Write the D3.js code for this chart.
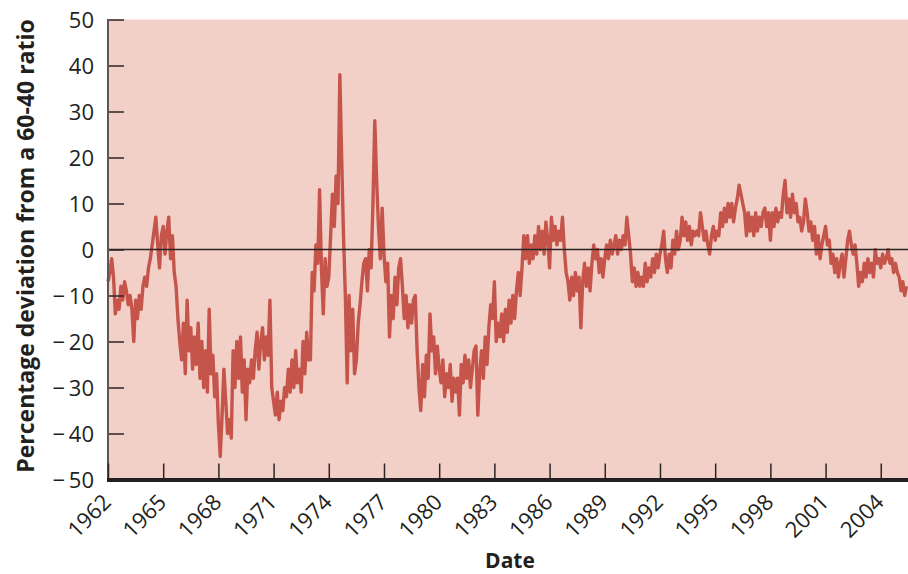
<!DOCTYPE html>
<html>
<head>
<meta charset="utf-8">
<script src="https://cdn.jsdelivr.net/npm/d3@7"></script>
<style>
  body { margin: 0; background: #ffffff; }
  svg { display: block; }
  text { font-family: "Open Sans", "Noto Sans", sans-serif; fill: #231f20; }
</style>
</head>
<body>
<svg id="chart" width="908" height="574"></svg>
<script>
// Percentage deviation of the portfolio from a 60-40 ratio, sampled every tenth of a year.
const sampleStep = 0.1;

const start1960s = 1962;
const dev1960s = [
  -7, -5, -2, -6, -14, -11, -13, -8, -11, -7,      // 1962
  -9, -12, -10, -13, -20, -11, -15, -10, -13, -8,  // 1963
  -6, -8, -4, -2, 1, 4, 7, 1, -4, 3,               // 1964
  5, -1, 4, 7, -2, 3, -5, -8, -15, -20,            // 1965
  -24, -16, -27, -11, -22, -17, -26, -19, -25, -16,// 1966
  -28, -20, -30, -22, -31, -13, -27, -23, -32, -27,// 1967
  -38, -45, -36, -26, -33, -40, -37, -41, -22, -30,// 1968
  -20, -28, -19, -31, -24, -37, -26, -29, -24, -28 // 1969
];

const start1970s = 1970;
const dev1970s = [
  -22, -18, -26, -20, -17, -24, -19, -23, -11, -30, // 1970
  -33, -36, -31, -37, -33, -35, -30, -32, -26, -31, // 1971
  -24, -30, -22, -29, -26, -31, -20, -27, -18, -24, // 1972
  -24, -5, -9, 1, -3, 13, -4, -14, -2, -8,          // 1973
  -6, 3, 12, 5, 16, 10, 38, 20, 3, -10,             // 1974
  -29, -10, -22, -13, -27, -24, -16, -12, -7, -3,   // 1975
  -2, -9, 0, -4, 10, 28, 15, 5, -2, 9,              // 1976
  -1, -7, -3, -19, -10, -15, -6, -12, -4, -2,       // 1977
  -8, -15, -10, -17, -12, -16, -11, -10, -22, -30,  // 1978
  -35, -25, -32, -23, -28, -14, -22, -19, -27, -21  // 1979
];

const start1980s = 1980;
const dev1980s = [
  -26, -29, -24, -32, -27, -30, -25, -33, -28, -31, // 1980
  -28, -36, -25, -29, -23, -28, -24, -30, -26, -22, // 1981
  -21, -36, -27, -22, -28, -19, -25, -17, -12, -15, // 1982
  -7, -20, -16, -19, -14, -20, -13, -18, -11, -16,  // 1983
  -10, -15, -9, -5, -10, -4, 3, -2, 3, -3,          // 1984
  1, -2, 3, -1, 5, 0, 4, -1, 6, 2,                  // 1985
  -4, 7, 2, 5, 1, 4, 2, 7, 0, -5,                   // 1986
  -7, -11, -6, -10, -5, -9, -6, -17, -7, -3,        // 1987
  -8, -4, -9, -3, 1, -2, 0, -5, -2, -6,             // 1988
  -2, 1, -2, 2, -1, 1, 3, -1, 2, 0                  // 1989
];

const start1990s = 1990;
const dev1990s = [
  3, 1, 7, 3, -1, -7, -4, -8, -5, -8,   // 1990
  -6, -8, -3, -7, -4, -6, -2, -5, -1, -4, // 1991
  -1, 1, 4, -2, -5, -1, -4, 2, -1, 4,   // 1992
  0, 2, 7, 3, 6, 2, 5, 1, 4, 3,         // 1993
  4, 3, 8, 5, 2, 4, 1, -1, 3, 5,        // 1994
  2, 4, 3, 8, 5, 9, 6, 10, 7, 10,       // 1995
  6, 9, 11, 14, 12, 10, 8, 3, 8, 4,     // 1996
  7, 3, 8, 4, 7, 5, 8, 9, 5, 8,         // 1997
  2, 8, 5, 9, 6, 8, 7, 12, 15, 8,       // 1998
  11, 7, 12, 8, 10, 6, 7, 4, 6, 11      // 1999
];

const start2000s = 2000;
const dev2000s = [
  8, 4, 6, 2, 5, -1, 3, -2, 1, 3,       // 2000
  5, 1, 2, -3, -1, -5, -2, -6, -3, -1,  // 2001
  -6, -2, 2, 4, 1, -1, 1, -3, -8, -5,   // 2002
  -7, -3, -6, -2, -5, -3, -6, 0, -3, -2,// 2003
  -4, -1, -3, -2, 0, -3, -2, -5, -3, -5,// 2004
  -6, -9, -7, -10, -8                   // 2005
];

const yTicks = [-50, -40, -30, -20, -10, 0, 10, 20, 30, 40, 50];
const xTicks = [1962, 1965, 1968, 1971, 1974, 1977, 1980, 1983, 1986, 1989, 1992, 1995, 1998, 2001, 2004];
const yTitle = "Percentage deviation from a 60-40 ratio";
const xTitle = "Date";

// Flatten the decade blocks into {year, value} points
const blocks = [
  [start1960s, dev1960s], [start1970s, dev1970s], [start1980s, dev1980s],
  [start1990s, dev1990s], [start2000s, dev2000s]
];
const series = [];
blocks.forEach(([y0, vals]) => {
  vals.forEach((v, i) => series.push({ year: y0 + i * sampleStep, value: v }));
});

const svg = d3.select("#chart");
const plotLeft = 108, plotRight = 908, plotTop = 19.5, plotBottom = 479.5;

const x = d3.scaleLinear().domain([1962, 2005.48]).range([plotLeft, plotRight]);
const y = d3.scaleLinear().domain([-50, 50]).range([plotBottom, plotTop]);

// Plot background
svg.append("rect")
  .attr("x", plotLeft).attr("y", plotTop)
  .attr("width", plotRight - plotLeft).attr("height", plotBottom - plotTop)
  .attr("fill", "#f2cfc7");

// Data line
const line = d3.line().x(d => x(d.year)).y(d => y(d.value));
svg.append("path")
  .datum(series)
  .attr("d", line)
  .attr("fill", "none")
  .attr("stroke", "#c5554a")
  .attr("stroke-width", 3.4)
  .attr("stroke-linejoin", "round");

// Zero reference line
svg.append("line")
  .attr("x1", plotLeft).attr("x2", plotRight)
  .attr("y1", y(0)).attr("y2", y(0))
  .attr("stroke", "#2b2526").attr("stroke-width", 1.6);

// Y axis: ticks point inward
const yAxis = d3.axisRight(y)
  .tickValues(yTicks)
  .tickSize(16)
  .tickFormat(d => d < 0 ? "\u2212\u2009" + Math.abs(d) : String(d));
const gy = svg.append("g").attr("transform", `translate(${plotLeft},0)`).call(yAxis);
gy.select(".domain").remove();
gy.selectAll(".tick line").attr("stroke", "#2b2526").attr("stroke-width", 1.5);
gy.selectAll(".tick text")
  .attr("x", -14).attr("dy", "0.35em")
  .attr("text-anchor", "end")
  .style("font-size", "22px");
svg.append("line")
  .attr("x1", plotLeft).attr("x2", plotLeft)
  .attr("y1", plotTop - 0.5).attr("y2", plotBottom)
  .attr("stroke", "#5a5556").attr("stroke-width", 2);

// X axis: ticks point up into the plot
const xAxis = d3.axisTop(x)
  .tickValues(xTicks)
  .tickSize(16)
  .tickFormat(d3.format("d"));
const gx = svg.append("g").attr("transform", `translate(0,${plotBottom})`).call(xAxis);
gx.select(".domain").remove();
gx.selectAll(".tick line").attr("stroke", "#2b2526").attr("stroke-width", 1.5);
gx.selectAll(".tick text")
  .attr("x", 0).attr("y", 0).attr("dy", 0)
  .attr("text-anchor", "end")
  .attr("transform", "translate(4,24) rotate(-45)")
  .style("font-size", "22px");
svg.append("line")
  .attr("x1", plotLeft - 1).attr("x2", plotRight)
  .attr("y1", plotBottom + 0.5).attr("y2", plotBottom + 0.5)
  .attr("stroke", "#231f20").attr("stroke-width", 4);

// Axis titles
svg.append("text")
  .attr("transform", `translate(34,246) rotate(-90)`)
  .attr("text-anchor", "middle")
  .style("font-size", "23px").style("font-weight", "bold")
  .text(yTitle);
svg.append("text")
  .attr("x", 510).attr("y", 568)
  .attr("text-anchor", "middle")
  .style("font-size", "21px").style("font-weight", "bold")
  .text(xTitle);
</script>
</body>
</html>
